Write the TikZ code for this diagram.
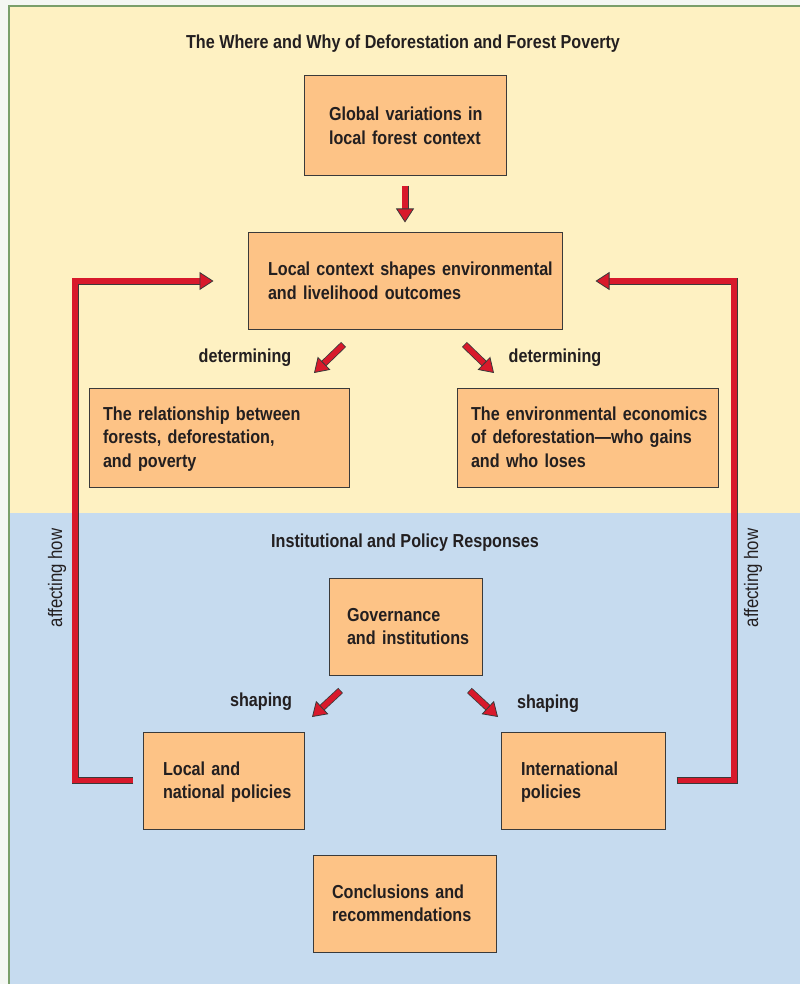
\documentclass[tikz,border=0pt]{standalone}
\usepackage{fontspec}
\setmainfont{Liberation Sans}[FakeStretch=0.86]
\usetikzlibrary{arrows.meta}
\usetikzlibrary{calc}

\definecolor{PaleYellow}{HTML}{FEF1C2}
\definecolor{PaleBlue}{HTML}{C6DBEF}
\definecolor{BoxOrange}{HTML}{FDC386}
\definecolor{ArrowRed}{HTML}{D8192B}
\definecolor{EdgeGray}{HTML}{3A3A3A}
\definecolor{FrameGreen}{HTML}{7A9F6A}
\definecolor{InkBlack}{HTML}{231F20}

% lines of a box, kept unbroken
\newcommand{\boxlines}[1]{\begin{tabular}{@{}l@{}}\rule{0pt}{20pt}#1\end{tabular}}

\tikzset{
    box/.style={draw=EdgeGray, line width=1pt, fill=BoxOrange, align=left, inner ysep=0pt,
        text=InkBlack, font=\fontsize{18.8}{23.5}\selectfont\bfseries},
    cue/.style={text=InkBlack, font=\fontsize{18.8}{21}\selectfont\bfseries},
    sidecue/.style={text=InkBlack, font=\fontsize{19.5}{21}\selectfont, rotate=90},
    redarrow/.style={draw=ArrowRed, line width=5.4pt, line join=miter,
        -{Triangle[width=18pt, length=14pt, color=EdgeGray, fill=ArrowRed, line width=0.8pt]},
        preaction={draw=EdgeGray, line width=7pt, -, shorten >=9pt, shorten <=-0.8pt}},
}

\begin{document}
\begin{tikzpicture}[x=1pt, y=-1pt]
        \useasboundingbox (0,0) rectangle (800,984);

            %  Background panels
            \fill [white!92!FrameGreen] (0,0) rectangle (800,984);
            \fill [PaleYellow] (9,6) rectangle (800,513);
            \fill [PaleBlue] (9,513) rectangle (800,984);
            \draw [FrameGreen, line width=2.5pt] (9,984) -- (9,6) -- (800,6);

            % Where and why
            \node (topic) at (403,44) [cue] {The Where and Why of Deforestation and Forest Poverty};
            \node (glob) at (405,126) [box, text width=152pt, inner xsep=25pt, minimum height=100pt]
                {\boxlines{Global variations in\\local forest context}};
            \node (loc) at (405,281) [box, text width=294pt, inner xsep=10pt, minimum height=96pt]
                {\hspace*{10pt}\boxlines{Local context shapes environmental\\and livelihood outcomes}};
            \node (rel) at (219,437.5) [box, text width=232pt, inner xsep=14pt, minimum height=99pt]
                {\boxlines{The relationship between\\forests, deforestation,\\and poverty}};
            \node (env) at (587.5,437.5) [box, text width=233pt, inner xsep=14pt, minimum height=99pt]
                {\boxlines{The environmental economics\\of deforestation---who gains\\and who loses}};
            \node (detL) at (245,358) [cue] {determining};
            \node (detR) at (555,358) [cue] {determining};

            % Institutions and policy
            \node (answer) at (405,543) [cue] {Institutional and Policy Responses};
            \node (gov) at (405.5,626.5) [box, text width=117pt, inner xsep=18pt, minimum height=97pt]
                {\boxlines{Governance\\and institutions}};
            \node (locpol) at (223.5,780.5) [box, text width=121pt, inner xsep=20pt, minimum height=97pt]
                {\boxlines{Local and\\national policies}};
            \node (intl) at (583,780.5) [box, text width=124pt, inner xsep=20pt, minimum height=97pt]
                {\boxlines{International\\policies}};
            \node (concl) at (404.5,903.5) [box, text width=145pt, inner xsep=19pt, minimum height=97pt]
                {\boxlines{Conclusions and\\recommendations}};
            \node (shpL) at (261,702) [cue] {shaping};
            \node (shpR) at (548,704) [cue] {shaping};
            \node (affL) at (57,578) [sidecue] {affecting how};
            \node (affR) at (753,578) [sidecue] {affecting how};

            % Arrow ends
            \coordinate (detLs) at (343,345);  \coordinate (detLe) at (314,373);
            \coordinate (detRs) at (465,345);  \coordinate (detRe) at (494,373);
            \coordinate (shpLs) at (340,691);  \coordinate (shpLe) at (312,717);
            \coordinate (shpRs) at (470,691);  \coordinate (shpRe) at (498,717);
            \coordinate (railL) at (75,0);
            \coordinate (railR) at (734,0);

            % Red arrows
            \draw [redarrow] ([yshift=-10pt]glob.south) -- ([yshift=10pt]loc.north);
            \draw [redarrow] (detLs) -- (detLe);
            \draw [redarrow] (detRs) -- (detRe);
            \draw [redarrow] (shpLs) -- (shpLe);
            \draw [redarrow] (shpRs) -- (shpRe);

            % Feedback loops
            \draw [redarrow] ([xshift=-10pt]locpol.west) -| (railL |- loc.west) -- ([xshift=-34pt]loc.west);
            \draw [redarrow] ([xshift=12pt]intl.east) -| (railR |- loc.east) -- ([xshift=33pt]loc.east);
        \end{tikzpicture}
\end{document}
